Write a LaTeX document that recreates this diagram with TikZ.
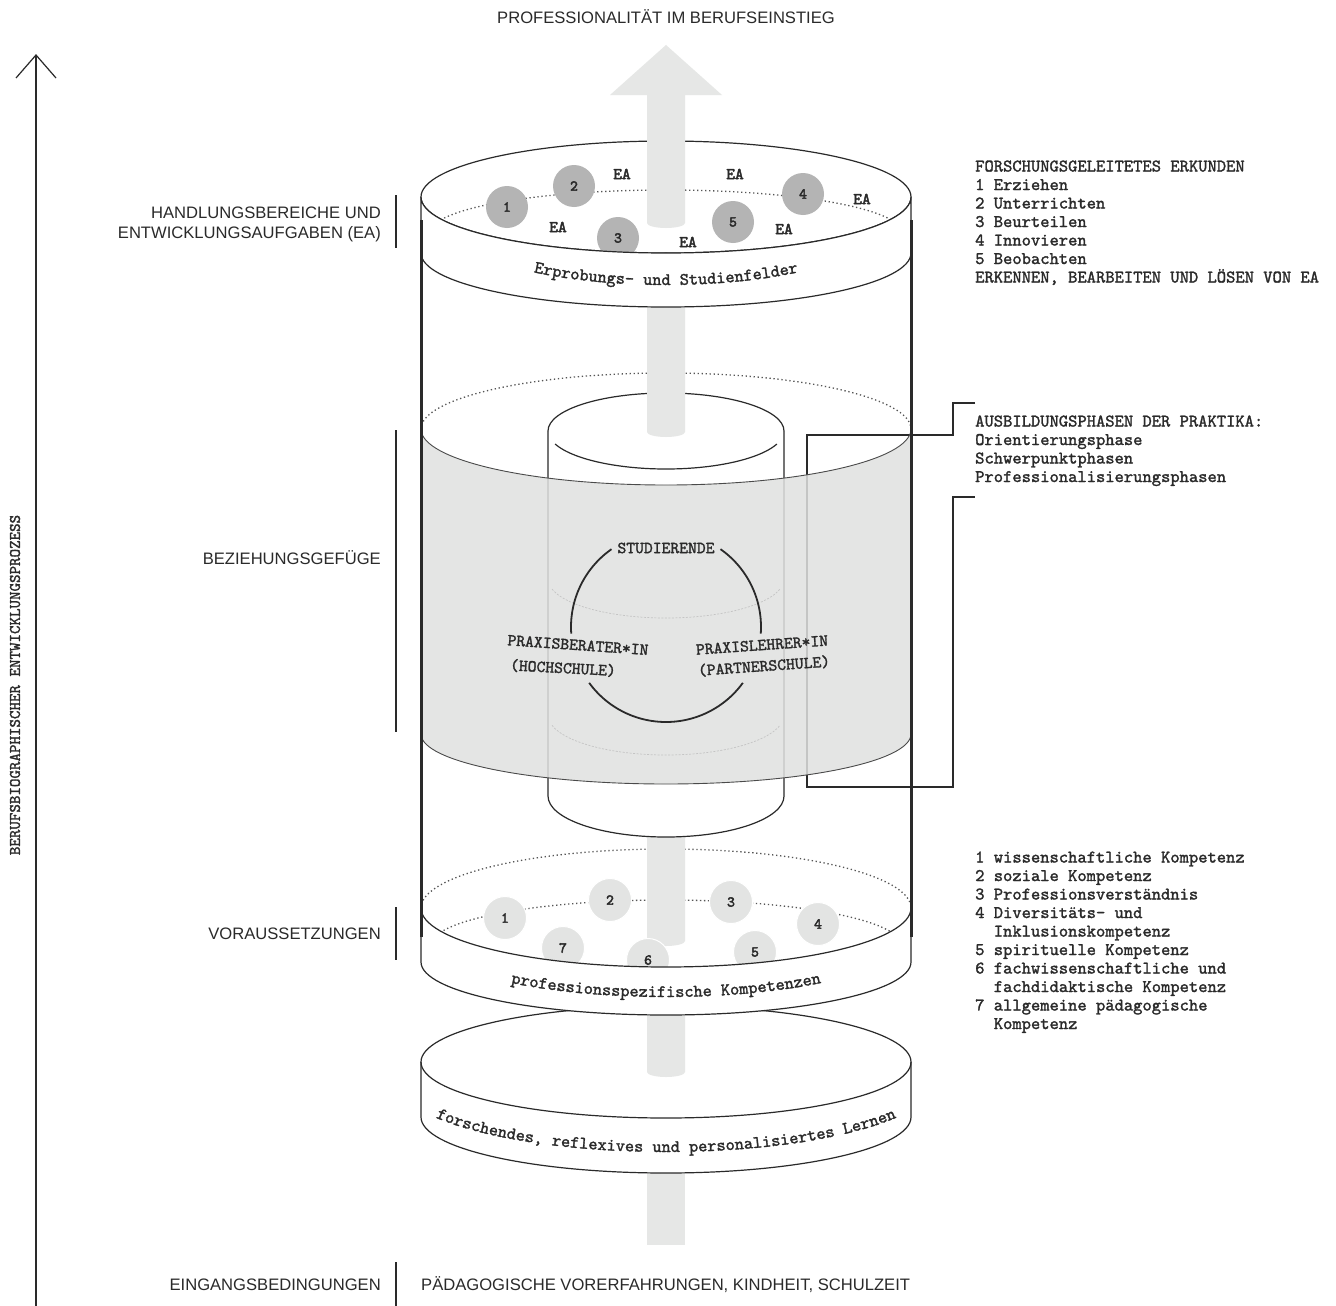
\documentclass[tikz,border=0pt]{standalone}
\usepackage{fontspec}
\setmainfont{Liberation Sans}
\newfontfamily\monof{lmmono10-regular.otf}[FakeBold=1.6]
\newfontfamily\monobf{lmmono10-regular.otf}[FakeBold=3]
\usetikzlibrary{decorations.text}
\definecolor{ink}{HTML}{2A2A2A}
\definecolor{shaftgray}{HTML}{E6E7E6}
\definecolor{bandgray}{HTML}{E0E1E0}
\definecolor{dotgray}{HTML}{555555}
\definecolor{darkcirc}{HTML}{B4B4B4}
\definecolor{lightcirc}{HTML}{E3E4E3}
\definecolor{faint}{HTML}{C4C4C4}
\begin{document}
\begin{tikzpicture}[x=1pt,y=-1pt,
  sanslab/.style={font=\fontsize{16.6}{20}\selectfont, text=ink, inner sep=0pt},
  monotxt/.style={font=\monof\fontsize{17.7}{18.5}\selectfont, text=ink, inner sep=0pt, anchor=base west},
  midmono/.style={font=\monof\fontsize{16.8}{18}\selectfont, text=ink, inner sep=0pt},
  edgeline/.style={draw=ink, line width=1.2pt},
  thickside/.style={draw=ink, line width=3pt},
  dotline/.style={draw=dotgray, line width=1.3pt, dash pattern=on 1.3pt off 2.7pt},
  eacirc/.style={circle, fill=darkcirc, minimum size=42pt, inner sep=0pt, font=\monobf\fontsize{15}{15}\selectfont, text=ink},
  vcirc/.style={circle, fill=lightcirc, draw=white, line width=1pt, minimum size=43pt, inner sep=0pt, font=\monobf\fontsize{15}{15}\selectfont, text=ink},
  ealab/.style={font=\monobf\fontsize{16.5}{16.5}\selectfont, text=ink, inner sep=0pt},
  sidebar/.style={draw=ink, line width=1.1pt},
]
\useasboundingbox (0,0) rectangle (1336,1306);
\fill[white] (0,0) rectangle (1336,1306);

% ---------- axis ----------
\coordinate (axbot) at (36,1306);
\coordinate (axtop) at (36,55);
\coordinate (axl) at (16,78);
\coordinate (axr) at (56,78);
\draw[ink, line width=1.2pt] (axbot) -- (axtop);
\draw[ink, line width=1.2pt] (axl) -- (axtop) -- (axr);
\node[rotate=90, font=\monof\fontsize{16.2}{16}\selectfont, text=ink, inner sep=0pt] (vlab) at (15,685) {BERUFSBIOGRAPHISCHER ENTWICKLUNGSPROZESS};

\node[sanslab, anchor=base] (title) at (666,24) {PROFESSIONALITÄT IM BERUFSEINSTIEG};

% ---------- shaft below disc ----------
\fill[shaftgray] (647,1140) rectangle (685,1245);

% ---------- bottom disc ----------
\path[fill=white, edgeline] (421,1062) -- (421,1117) arc[start angle=180,end angle=0,x radius=245,y radius=56] -- (911,1062) arc[start angle=0,end angle=-180,x radius=245,y radius=56] -- cycle;
\fill[shaftgray] (647,995) -- (647,1072) arc[start angle=180,end angle=0,x radius=19,y radius=5] -- (685,995) -- cycle;
\draw[edgeline] (421,1062) arc[start angle=180,end angle=0,x radius=245,y radius=56];
\path[decorate, decoration={text along path, text align=center, text={|\monof\fontsize{17.5}{17}\selectfont\color{ink}|forschendes, reflexives und personalisiertes Lernen}}] (396,1080) arc[start angle=180,end angle=0,x radius=270,y radius=72];

% ---------- Voraussetzungen face ----------
\draw[dotline] (421,908) arc[start angle=180,end angle=360,x radius=245,y radius=59];
\draw[dotline] (431,945) arc[start angle=180,end angle=360,x radius=235,y radius=45];
\fill[shaftgray] (647,815) -- (647,941) arc[start angle=180,end angle=0,x radius=19,y radius=5] -- (685,815) -- cycle;
\node[vcirc] (v1) at (505,918) {1};
\node[vcirc] (v2) at (610,900) {2};
\node[vcirc] (v3) at (731,902) {3};
\node[vcirc] (v4) at (818,924) {4};
\node[vcirc] (v5) at (755,952) {5};
\node[vcirc] (v6) at (648,960) {6};
\node[vcirc] (v7) at (563,948) {7};
\path[fill=white, edgeline] (421,908) -- (421,962) arc[start angle=180,end angle=0,x radius=245,y radius=53] -- (911,908) arc[start angle=0,end angle=180,x radius=245,y radius=59] -- cycle;
\path[decorate, decoration={text along path, text align=center, text={|\monof\fontsize{17.5}{17}\selectfont\color{ink}|professionsspezifische Kompetenzen}}] (436,943) arc[start angle=180,end angle=0,x radius=230,y radius=54];

% ---------- middle section ----------
\draw[dotline] (421,429) arc[start angle=180,end angle=360,x radius=245,y radius=56];
\path[fill=white] (548,431) arc[start angle=180,end angle=360,x radius=118,y radius=38] -- (784,796) arc[start angle=0,end angle=180,x radius=118,y radius=41] -- cycle;
\draw[edgeline] (548,431) arc[start angle=180,end angle=360,x radius=118,y radius=38];
\fill[shaftgray] (647,290) -- (647,432) arc[start angle=180,end angle=0,x radius=19,y radius=5] -- (685,290) -- cycle;
\draw[edgeline] (666,431) ++(160:118 and 38) arc[start angle=160,end angle=20,x radius=118,y radius=38];
\draw[edgeline] (548,431) -- (548,796) arc[start angle=180,end angle=0,x radius=118,y radius=41] -- (784,431);

% bracket
\draw[ink, line width=1.4pt] (975,403) -- (953,403) -- (953,435) -- (807,435) -- (807,787) -- (953,787) -- (953,497) -- (975,497);

% grey band
\path[fill=bandgray, fill opacity=0.85] (421,429) arc[start angle=180,end angle=0,x radius=245,y radius=56] -- (911,734) arc[start angle=0,end angle=180,x radius=245,y radius=50] -- cycle;
\draw[ink!85, line width=0.9pt] (421,429) arc[start angle=180,end angle=0,x radius=245,y radius=56];
\draw[ink!85, line width=0.9pt] (421,734) arc[start angle=180,end angle=0,x radius=245,y radius=50];
\draw[faint, dash pattern=on 2pt off 1.5pt, line width=0.7pt] (666,579) ++(165:118 and 39) arc[start angle=165,end angle=15,x radius=118,y radius=39];
\draw[faint, dash pattern=on 2pt off 1.5pt, line width=0.7pt] (666,715) ++(165:118 and 40) arc[start angle=165,end angle=15,x radius=118,y radius=40];

% relation circle
\draw[ink, line width=1.8pt] (666,627) ++(176:95) arc[start angle=176,end angle=235,radius=95];
\draw[ink, line width=1.8pt] (666,627) ++(305:95) arc[start angle=305,end angle=364,radius=95];
\draw[ink, line width=1.8pt] (666,627) ++(36:95) arc[start angle=36,end angle=144,radius=95];
\node[midmono] (stud) at (666,548) {STUDIERENDE};
\node[midmono, rotate=-4] (pb1) at (578,645) {PRAXISBERATER*IN};
\node[midmono, rotate=-3] (pb2) at (563,668) {(HOCHSCHULE)};
\node[midmono, rotate=4] (pl1) at (762,645) {PRAXISLEHRER*IN};
\node[midmono, rotate=4] (pl2) at (764,666) {(PARTNERSCHULE)};

% ---------- top face ----------
\path[fill=white, edgeline] (666,197) ellipse[x radius=245, y radius=56];
\draw[dotline] (431,232) arc[start angle=180,end angle=360,x radius=235,y radius=42];
\node[eacirc] (e1) at (507,207) {1};
\node[eacirc] (e2) at (574,186) {2};
\node[eacirc] (e3) at (618,238) {3};
\node[eacirc] (e4) at (803,194) {4};
\node[eacirc] (e5) at (733,222) {5};
\node[ealab] (ea1) at (622,174) {EA};
\node[ealab] (ea2) at (735,174) {EA};
\node[ealab] (ea3) at (558,227) {EA};
\node[ealab] (ea4) at (688,242) {EA};
\node[ealab] (ea5) at (862,199) {EA};
\node[ealab] (ea6) at (784,229) {EA};
\fill[shaftgray] (666,45) -- (722,95) -- (685,95) -- (685,223) arc[start angle=0,end angle=180,x radius=19,y radius=5] -- (647,95) -- (610,95) -- cycle;
\path[fill=white, edgeline] (421,197) -- (421,253) arc[start angle=180,end angle=0,x radius=245,y radius=54] -- (911,197) arc[start angle=0,end angle=180,x radius=245,y radius=56] -- cycle;
\path[decorate, decoration={text along path, text align=center, text={|\monof\fontsize{17.5}{17}\selectfont\color{ink}|Erprobungs- und Studienfelder}}] (456,228) arc[start angle=180,end angle=0,x radius=210,y radius=57];

% thick sides
\draw[thickside] (421,220) -- (421,937);
\draw[thickside] (911,220) -- (911,937);

% ---------- left labels ----------
\node[sanslab, anchor=base east] (hb1) at (381,218) {HANDLUNGSBEREICHE UND};
\node[sanslab, anchor=base east] (hb2) at (381,238) {ENTWICKLUNGSAUFGABEN (EA)};
\draw[sidebar] (396,195) -- (396,248);
\node[sanslab, anchor=base east] (bz) at (381,564) {BEZIEHUNGSGEFÜGE};
\draw[sidebar] (396,430) -- (396,732);
\node[sanslab, anchor=base east] (vs) at (381,939) {VORAUSSETZUNGEN};
\draw[sidebar] (396,907) -- (396,960);
\node[sanslab, anchor=base east] (eb) at (381,1290) {EINGANGSBEDINGUNGEN};
\draw[sidebar] (396,1262) -- (396,1306);
\node[sanslab, anchor=base west] (pv) at (421,1290) {PÄDAGOGISCHE VORERFAHRUNGEN, KINDHEIT, SCHULZEIT};

% ---------- right text blocks ----------
\node[monotxt] (r1a) at (975,171.5) {FORSCHUNGSGELEITETES ERKUNDEN};
\node[monotxt] (r1b) at (975,190) {1 Erziehen};
\node[monotxt] (r1c) at (975,208.5) {2 Unterrichten};
\node[monotxt] (r1d) at (975,227) {3 Beurteilen};
\node[monotxt] (r1e) at (975,245.5) {4 Innovieren};
\node[monotxt] (r1f) at (975,264) {5 Beobachten};
\node[monotxt] (r1g) at (975,282.5) {ERKENNEN, BEARBEITEN UND LÖSEN VON EA};

\node[monotxt] (r2a) at (975,426.5) {AUSBILDUNGSPHASEN DER PRAKTIKA:};
\node[monotxt] (r2b) at (975,445) {Orientierungsphase};
\node[monotxt] (r2c) at (975,463.5) {Schwerpunktphasen};
\node[monotxt] (r2d) at (975,482) {Professionalisierungsphasen};

\node[monotxt] (r3a) at (975,862.5) {1 wissenschaftliche Kompetenz};
\node[monotxt] (r3b) at (975,881) {2 soziale Kompetenz};
\node[monotxt] (r3c) at (975,899.5) {3 Professionsverständnis};
\node[monotxt] (r3d) at (975,918) {4 Diversitäts- und};
\node[monotxt] (r3e) at (993.6,936.5) {Inklusionskompetenz};
\node[monotxt] (r3f) at (975,955) {5 spirituelle Kompetenz};
\node[monotxt] (r3g) at (975,973.5) {6 fachwissenschaftliche und};
\node[monotxt] (r3h) at (993.6,992) {fachdidaktische Kompetenz};
\node[monotxt] (r3i) at (975,1010.5) {7 allgemeine pädagogische};
\node[monotxt] (r3j) at (993.6,1029) {Kompetenz};
\end{tikzpicture}
\end{document}
